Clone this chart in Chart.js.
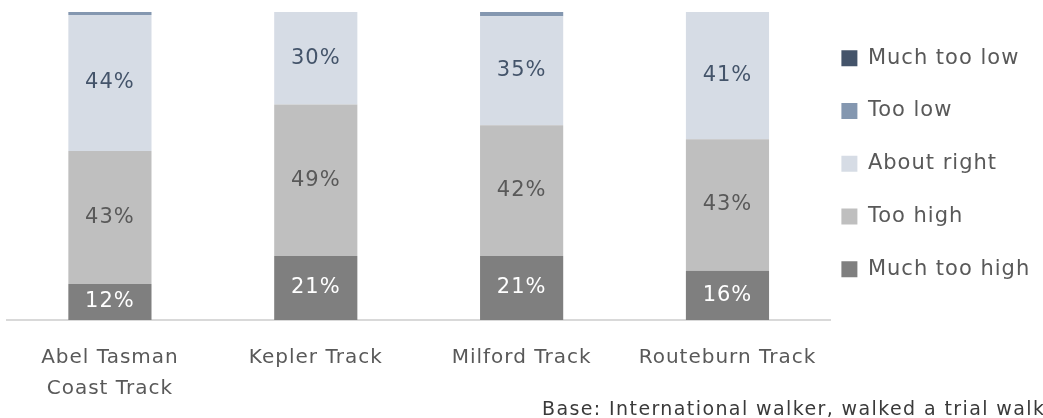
<!DOCTYPE html>
<html>
<head>
<meta charset="utf-8">
<script src="https://cdn.jsdelivr.net/npm/chart.js@4.4.0/dist/chart.umd.min.js"></script>
<style>
  html, body { margin: 0; padding: 0; background: #fff; overflow: hidden; }
  #wrap { position: relative; width: 1043px; height: 418px; }
  #note {
    position: absolute; left: 542px; top: 397px; white-space: nowrap; letter-spacing: 1.4px;
    font-family: "DejaVu Sans", sans-serif; font-size: 19px; color: #3a3a3a;
  }
</style>
</head>
<body>
<div id="wrap">
  <canvas id="chart" width="1043" height="418"></canvas>
  <div id="note">Base: International walker, walked a trial walk</div>
</div>
<script>
// tracks (x axis)
var tracks = [['Abel Tasman', 'Coast Track'], 'Kepler Track', 'Milford Track', 'Routeburn Track'];

// answer shares in %, bottom to top
var muchTooHigh = [11.7, 20.8, 20.8, 16.0];
var tooHigh     = [43.2, 49.2, 42.4, 42.7];
var aboutRight  = [44.1, 30.0, 35.4, 41.3];
var tooLow      = [1.0, 0, 1.4, 0];
var muchTooLow  = [0, 0, 0, 0];

var fontName = '"DejaVu Sans", sans-serif';
var grey = '#595959';

// labels in the middle of each segment
var segLabels = {
    id: 'segLabels',
    afterDatasetsDraw: function(chart) {
        var ctx = chart.ctx;
        ctx.save();
        ctx.font = '21px ' + fontName;
        ctx.textAlign = 'center';
        ctx.textBaseline = 'middle';
        chart.data.datasets.forEach(function(ds, i) {
            var meta = chart.getDatasetMeta(i);
            meta.data.forEach(function(bar, j) {
                var v = ds.data[j];
                if (v < 5) return;
                ctx.fillStyle = ds.labelColor;
                ctx.fillText(Math.round(v) + '%', bar.x, (bar.y + bar.base) / 2);
            });
        });
        ctx.restore();
    }
};

// wider lettering, and legend pulled in next to the bars
var tweak = {
    id: 'tweak',
    beforeUpdate: function(chart) { chart.ctx.letterSpacing = '1px'; },
    beforeDraw: function(chart) { chart.ctx.letterSpacing = '1px'; },
    afterLayout: function(chart) {
        var lg = chart.legend;
        var dx = lg.left + lg.options.labels.padding - (chart.chartArea.right + 11);
        lg.left -= dx; lg.right -= dx;
        lg.top += 4; lg.bottom += 4;
    }
};

new Chart(document.getElementById('chart'), {
    type: 'bar',
    data: {
        labels: tracks,
        datasets: [
            {label: 'Much too high', data: muchTooHigh, backgroundColor: '#7f7f7f', labelColor: '#ffffff'},
            {label: 'Too high', data: tooHigh, backgroundColor: '#bfbfbf', labelColor: grey},
            {label: 'About right', data: aboutRight, backgroundColor: '#d6dce5', labelColor: '#44546a'},
            {label: 'Too low', data: tooLow, backgroundColor: '#8497b0', labelColor: grey},
            {label: 'Much too low', data: muchTooLow, backgroundColor: '#44546a', labelColor: grey}
        ]
    },
    options: {
        responsive: false,
        animation: false,
        datasets: {bar: {categoryPercentage: 1, barPercentage: 0.404}},
        layout: {padding: {top: 12, left: 7, right: -18, bottom: -8}},
        scales: {
            x: {
                stacked: true,
                grid: {display: false, drawTicks: false},
                border: {display: true, color: '#d9d9d9', width: 2},
                ticks: {color: grey, font: {family: fontName, size: 20, lineHeight: 1.55}, padding: 22, maxRotation: 0}
            },
            y: {stacked: true, display: false, min: 0, max: 100}
        },
        plugins: {
            legend: {
                position: 'right',
                align: 'start',
                reverse: true,
                labels: {
                    boxWidth: 16, boxHeight: 16, padding: 31.75, color: grey,
                    font: {family: fontName, size: 21}
                }
            },
            tooltip: {enabled: false}
        }
    },
    plugins: [segLabels, tweak]
});
</script>
</body>
</html>
